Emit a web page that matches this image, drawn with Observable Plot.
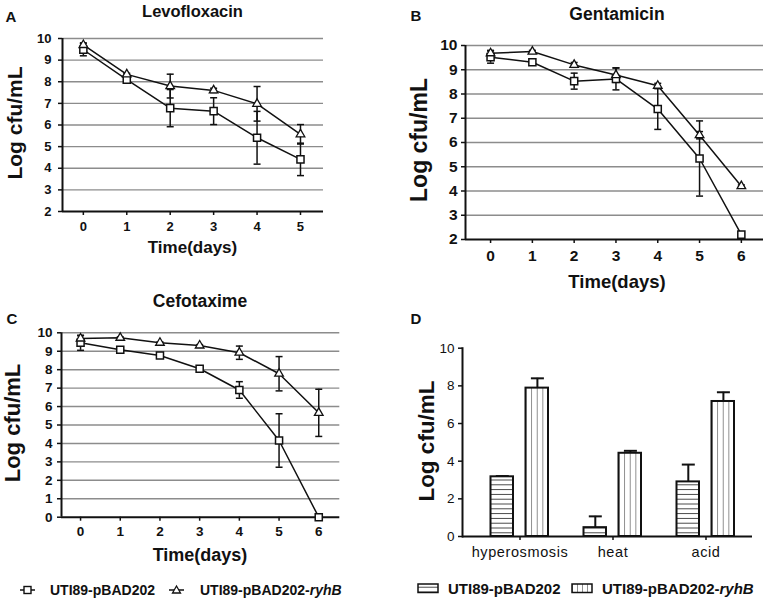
<!DOCTYPE html>
<html><head><meta charset="utf-8">
<script src="https://cdn.jsdelivr.net/npm/d3@7"></script>
<script src="https://cdn.jsdelivr.net/npm/@observablehq/plot@0.6"></script>
<style>
body{margin:0;background:#fff;}
#fig{position:relative;width:766px;height:602px;overflow:hidden;font-family:"Liberation Sans",Arial,sans-serif;color:#111;background:#fff;}
.panel{position:absolute;}
.t{position:absolute;transform:translate(-50%,-50%);white-space:nowrap;font-weight:bold;line-height:1;}
.yl{transform:translate(-50%,-50%) rotate(-90deg);}
.leg{position:absolute;display:flex;align-items:center;font-weight:bold;white-space:nowrap;line-height:1;}
.leg svg{display:block;}
</style></head><body>
<svg width="0" height="0" style="position:absolute">
  <defs>
    <pattern id="hs" patternUnits="userSpaceOnUse" width="10" height="4.8">
      <rect width="10" height="4.8" fill="#fff"/>
      <line x1="0" y1="2.4" x2="10" y2="2.4" stroke="#444" stroke-width="1"/>
    </pattern>
    <pattern id="vs" patternUnits="objectBoundingBox" width="0.25" height="1" patternContentUnits="userSpaceOnUse">
      <rect width="100" height="1000" fill="#fff"/>
      <line x1="0" y1="0" x2="0" y2="1000" stroke="#444" stroke-width="1.2"/>
    </pattern>
  </defs>
</svg>
<div id="fig"></div>
<script>
// ---------- data ----------
const seriesNames = ["UTI89-pBAD202", "UTI89-pBAD202-ryhB"];

const daysA = [0, 1, 2, 3, 4, 5];
const levoCtrl    = [9.48, 8.10, 6.78, 6.64, 5.41, 4.41];
const levoCtrlErr = [0.28, 0.08, 0.86, 0.62, 1.22, 0.75];
const levoRyhB    = [9.70, 8.34, 7.80, 7.60, 6.98, 5.57];
const levoRyhBErr = [0.10, 0.05, 0.55, 0.10, 0.80, 0.45];

const daysB = [0, 1, 2, 3, 4, 5, 6];
const gentCtrl    = [9.52, 9.31, 8.53, 8.62, 7.38, 5.34, 2.20];
const gentCtrlErr = [0.25, 0.10, 0.33, 0.45, 0.84, 1.55, 0.05];
const gentRyhB    = [9.68, 9.75, 9.20, 8.78, 8.34, 6.30, 4.20];
const gentRyhBErr = [0.12, 0.05, 0.10, 0.30, 0.10, 0.15, 0.05];

const daysC = [0, 1, 2, 3, 4, 5, 6];
const cefoCtrl    = [9.46, 9.08, 8.77, 8.05, 6.90, 4.16, 0.00];
const cefoCtrlErr = [0.41, 0.10, 0.08, 0.10, 0.45, 1.45, 0.05];
const cefoRyhB    = [9.69, 9.73, 9.46, 9.31, 8.92, 7.78, 5.66];
const cefoRyhBErr = [0.15, 0.05, 0.05, 0.05, 0.36, 0.93, 1.28];

const stressCats    = ["hyperosmosis", "heat", "acid"];
const stressCtrl    = [3.17, 0.47, 2.90];
const stressCtrlErr = [0.04, 0.60, 0.92];
const stressRyhB    = [7.88, 4.42, 7.17];
const stressRyhBErr = [0.52, 0.13, 0.49];

const ticks2to10 = [2, 3, 4, 5, 6, 7, 8, 9, 10];
const ticks0to10 = [0, 1, 2, 3, 4, 5, 6, 7, 8, 9, 10];
const ticksD = [0, 2, 4, 6, 8, 10];

// ---------- helpers ----------
const capSym = {draw(ctx, size) { const r = Math.sqrt(size / Math.PI); ctx.moveTo(-r, 0); ctx.lineTo(r, 0); }};
const fig = document.getElementById("fig");

function place(el, left, top) {
  const d = document.createElement("div");
  d.className = "panel"; d.style.left = left + "px"; d.style.top = top + "px";
  d.appendChild(el); fig.appendChild(d);
}
function text(str, x, y, size, cls = "t") {
  const d = document.createElement("div");
  d.className = cls; d.style.left = x + "px"; d.style.top = y + "px";
  d.style.fontSize = size + "px";
  d.innerHTML = str; fig.appendChild(d);
}

function linePanel(o) {
  const rows = o.days.flatMap((d, i) => [
    {day: d, v: o.ctrl[i], e: o.ctrlErr[i], s: seriesNames[0]},
    {day: d, v: o.ryhB[i], e: o.ryhBErr[i], s: seriesNames[1]}
  ]);
  const ctrlRows = rows.filter(r => r.s === seriesNames[0]);
  const ryhRows = rows.filter(r => r.s === seriesNames[1]);
  return Plot.plot({
    width: o.width, height: o.height,
    marginTop: o.mt, marginBottom: o.mb, marginLeft: o.ml, marginRight: o.mr,
    x: {domain: o.xDomain}, y: {domain: o.yDomain},
    style: {fontFamily: "'Liberation Sans', Arial, sans-serif", fontSize: o.fs + "px", fontWeight: "bold", color: "#111", background: "transparent", overflow: "visible"},
    marks: [
      Plot.ruleY(o.yTicks.filter(t => t > o.yDomain[0]), {stroke: "#8c8c8c", strokeWidth: 1.4}),
      Plot.ruleX([o.xDomain[0]], {stroke: "#111", strokeWidth: 2}),
      Plot.ruleY([o.yDomain[0]], {stroke: "#111", strokeWidth: 2}),
      Plot.axisY({ticks: o.yTicks, tickSize: 4, tickPadding: o.ypad, label: null, stroke: "#111", strokeWidth: 1.5, fontSize: o.fs, fontWeight: "bold"}),
      Plot.axisX({ticks: o.days, tickSize: 4, tickPadding: o.xpad, label: null, tickFormat: d => d, stroke: "#111", strokeWidth: 1.5, fontSize: o.fs, fontWeight: "bold"}),
      Plot.line(rows, {x: "day", y: "v", z: "s", stroke: "#111", strokeWidth: 1.5}),
      Plot.ruleX(rows, {x: "day", y1: d => d.v - d.e, y2: d => d.v + d.e, stroke: "#111", strokeWidth: 1.5}),
      Plot.dot(rows, {x: "day", y: d => d.v - d.e, symbol: capSym, r: 3.5, fill: "none", stroke: "#111", strokeWidth: 1.5}),
      Plot.dot(rows, {x: "day", y: d => d.v + d.e, symbol: capSym, r: 3.5, fill: "none", stroke: "#111", strokeWidth: 1.5}),
      Plot.dot(ctrlRows, {x: "day", y: "v", symbol: "square", r: 4, fill: "white", stroke: "#111", strokeWidth: 1.5}),
      Plot.dot(ryhRows, {x: "day", y: "v", symbol: "triangle", r: 3.2, fill: "white", stroke: "#111", strokeWidth: 1.3})
    ]
  });
}

// ---------- Panel A ----------
place(linePanel({days: daysA, ctrl: levoCtrl, ctrlErr: levoCtrlErr, ryhB: levoRyhB, ryhBErr: levoRyhBErr,
  xDomain: [-0.48, 5.53], yDomain: [2, 10], yTicks: ticks2to10,
  width: 330, height: 240, mt: 38, mb: 29, ml: 62, mr: 7, fs: 13, ypad: 7, xpad: 6}), 0, 0);
// ---------- Panel B ----------
place(linePanel({days: daysB, ctrl: gentCtrl, ctrlErr: gentCtrlErr, ryhB: gentRyhB, ryhBErr: gentRyhBErr,
  xDomain: [-0.6, 6.53], yDomain: [2, 10], yTicks: ticks2to10,
  width: 383, height: 268, mt: 45, mb: 29, ml: 82, mr: 3, fs: 15.5, ypad: 4, xpad: 6}), 383, 0);
// ---------- Panel C ----------
place(linePanel({days: daysC, ctrl: cefoCtrl, ctrlErr: cefoCtrlErr, ryhB: cefoRyhB, ryhBErr: cefoRyhBErr,
  xDomain: [-0.48, 6.53], yDomain: [0, 10], yTicks: ticks0to10,
  width: 345, height: 245, mt: 32.3, mb: 28.3, ml: 61, mr: 5.7, fs: 13.5, ypad: 5, xpad: 5}), 0, 300);

// ---------- Panel D ----------
{
  const rows = stressCats.flatMap((c, i) => [
    {cat: c, v: stressCtrl[i], e: stressCtrlErr[i], s: seriesNames[0]},
    {cat: c, v: stressRyhB[i], e: stressRyhBErr[i], s: seriesNames[1]}
  ]);
  const ctrlRows = rows.filter(r => r.s === seriesNames[0]);
  const ryhRows = rows.filter(r => r.s === seriesNames[1]);
  const errMarks = (data, dx) => [
    Plot.ruleX(data, {x: "cat", y1: "v", y2: d => d.v + d.e, dx, stroke: "#111", strokeWidth: 2}),
    Plot.dot(data, {x: "cat", y: d => d.v + d.e, dx, symbol: capSym, r: 6.5, fill: "none", stroke: "#111", strokeWidth: 2})
  ];
  const svg = Plot.plot({
    width: 383, height: 260, marginTop: 47.7, marginBottom: 24, marginLeft: 79, marginRight: 14,
    x: {domain: stressCats, paddingInner: 0, paddingOuter: 0.043, align: 1},
    y: {domain: [0, 10]},
    style: {fontFamily: "'Liberation Sans', Arial, sans-serif", fontSize: "13px", color: "#111", background: "transparent", overflow: "visible"},
    marks: [
      Plot.frame({anchor: "left", stroke: "#111", strokeWidth: 2}),
      Plot.axisY({ticks: ticksD, tickSize: 4, tickPadding: 4, label: null, stroke: "#111", strokeWidth: 1.5, fontSize: 13.5}),
      Plot.axisX({tickSize: 4, tickPadding: 6, label: null, stroke: "#111", strokeWidth: 1.5, fontSize: 14.5}),
      ...errMarks(ctrlRows, -17.7),
      ...errMarks(ryhRows, 17.4),
      Plot.barY(ctrlRows, {x: "cat", y: "v", fill: "url(#hs)", stroke: "#111", strokeWidth: 2, insetLeft: 17.5, insetRight: 53}),
      Plot.barY(ryhRows, {x: "cat", y: "v", fill: "url(#vs)", stroke: "#111", strokeWidth: 2, insetLeft: 52.5, insetRight: 18}),
      Plot.ruleY([0], {stroke: "#111", strokeWidth: 2})
    ]
  });
  svg.querySelectorAll("[aria-label='x-axis tick label'] text").forEach(t => t.setAttribute("letter-spacing", "0.6"));
  place(svg, 383, 300);
}

// ---------- text ----------
text("A", 11, 16, 15);
text("B", 416, 15, 15);
text("C", 12, 318, 15);
text("D", 416, 318, 15);
text("Levofloxacin", 192.5, 11, 16.5);
text("Gentamicin", 617, 15, 17.5);
text("Cefotaxime", 200, 302, 17.5);
text("Log cfu/mL", 14, 123, 21, "t yl");
text("Log cfu/mL", 419, 140, 23, "t yl");
text("Log cfu/mL", 13, 423, 22, "t yl");
text("Log cfu/mL", 427, 441, 22.5, "t yl");
text("Time(days)", 192.5, 247, 17);
text("Time(days)", 617, 282, 18.5);
text("Time(days)", 200, 555, 18);

// ---------- legends ----------
function legendLine(x, y, sym, label, italic) {
  const d = document.createElement("div");
  d.className = "leg"; d.style.left = x + "px"; d.style.top = (y - 8) + "px"; d.style.height = "16px"; d.style.fontSize = "14px";
  const shape = sym === "square"
    ? `<rect x="4" y="4.5" width="7" height="7" fill="#fff" stroke="#111" stroke-width="1.4"/>`
    : `<path d="M7.5,4 L11.5,11 L3.5,11 Z" fill="#fff" stroke="#111" stroke-width="1.3"/>`;
  d.innerHTML = `<svg width="15" height="16"><line x1="0" y1="8" x2="15" y2="8" stroke="#111" stroke-width="1.5"/>${shape}</svg><span style="margin-left:${sym === "square" ? 15 : 16}px">${label}${italic ? "<i>" + italic + "</i>" : ""}</span>`;
  fig.appendChild(d);
}
legendLine(20, 590, "square", "UTI89-pBAD202");
legendLine(169, 590, "triangle", "UTI89-pBAD202-", "ryhB");

function legendBox(x, y, pat, label, italic) {
  const d = document.createElement("div");
  d.className = "leg"; d.style.left = x + "px"; d.style.top = (y - 8) + "px"; d.style.height = "16px"; d.style.fontSize = "15px";
  d.innerHTML = `<svg width="22" height="16"><rect x="1" y="4" width="20" height="8.5" fill="url(#${pat})" stroke="#111" stroke-width="1.5"/></svg><span style="margin-left:9px">${label}${italic ? "<i>" + italic + "</i>" : ""}</span>`;
  fig.appendChild(d);
}
legendBox(417, 588, "hs", "UTI89-pBAD202");
legendBox(571, 588, "vs", "UTI89-pBAD202-", "ryhB");
</script>
</body></html>
